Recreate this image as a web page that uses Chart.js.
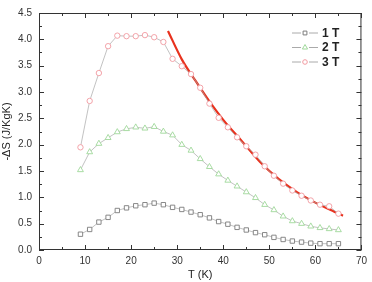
<!DOCTYPE html>
<html>
<head>
<meta charset="utf-8">
<script src="https://cdn.jsdelivr.net/npm/chart.js@4/dist/chart.umd.min.js"></script>
<style>
  html, body { margin: 0; padding: 0; background: #fff; }
  #wrap { width: 372px; height: 282px; position: relative; }
</style>
</head>
<body>
<div id="wrap"><canvas id="grafico"></canvas></div>
<script>
// Temperaturas medidas (K)
const temperaturas = [9, 11, 13, 15, 17, 19, 21, 23, 25, 27, 29, 31, 33, 35, 37,
                      39, 41, 43, 45, 47, 49, 51, 53, 55, 57, 59, 61, 63, 65];

// -dS (J/KgK) para cada campo
const campo1T = [0.30, 0.39, 0.53, 0.62, 0.75, 0.80, 0.84, 0.86, 0.89, 0.86, 0.81, 0.77, 0.72, 0.67, 0.61,
                 0.54, 0.49, 0.43, 0.38, 0.33, 0.29, 0.24, 0.20, 0.17, 0.15, 0.13, 0.12, 0.12, 0.12];
const campo2T = [1.52, 1.86, 2.02, 2.13, 2.24, 2.30, 2.33, 2.31, 2.34, 2.25, 2.18, 2.00, 1.89, 1.73, 1.58,
                 1.44, 1.32, 1.21, 1.10, 0.99, 0.86, 0.76, 0.64, 0.55, 0.50, 0.45, 0.42, 0.40, 0.38];
const campo3T = [1.95, 2.83, 3.36, 3.87, 4.07, 4.06, 4.06, 4.08, 4.04, 3.95, 3.63, 3.49, 3.34, 3.08, 2.78,
                 2.51, 2.33, 2.14, 1.97, 1.81, 1.59, 1.41, 1.26, 1.13, 1.03, 0.94, 0.86, 0.83, 0.69];

// Curva de ajuste (roja)
const ajusteT = [28, 31, 34, 37, 40, 44, 48, 52, 56, 60, 64, 66];
const ajusteS = [4.16, 3.62, 3.21, 2.82, 2.47, 2.07, 1.67, 1.35, 1.10, 0.90, 0.73, 0.65];

const etiquetas = ['1 T', '2 T', '3 T'];

const puntos = (xs, ys) => xs.map((x, i) => ({ x: x, y: ys[i] }));

// Marco y marcas hacia adentro en los cuatro lados
const marco = {
  id: 'marco',
  afterDraw(chart) {
    const ctx = chart.ctx;
    const a = chart.chartArea;
    const sx = chart.scales.x, sy = chart.scales.y;
    ctx.save();
    ctx.strokeStyle = '#333';
    ctx.lineWidth = 1;
    ctx.strokeRect(a.left + 0.5, a.top + 0.5, a.right - a.left - 1, a.bottom - a.top - 1);
    ctx.beginPath();
    for (let v = 0; v <= 70; v += 5) {
      const px = Math.round(sx.getPixelForValue(v)) + 0.5;
      const len = v % 10 === 0 ? 5 : 3;
      ctx.moveTo(px, a.bottom); ctx.lineTo(px, a.bottom - len);
      ctx.moveTo(px, a.top); ctx.lineTo(px, a.top + len);
    }
    for (let v = 0; v <= 4.5001; v += 0.25) {
      const py = Math.round(sy.getPixelForValue(v)) + 0.5;
      const len = Math.abs(v * 2 - Math.round(v * 2)) < 0.01 ? 5 : 3;
      ctx.moveTo(a.left, py); ctx.lineTo(a.left + len, py);
      ctx.moveTo(a.right, py); ctx.lineTo(a.right - len, py);
    }
    ctx.stroke();
    ctx.restore();
  }
};

// Leyenda dentro del area del grafico
const leyenda = {
  id: 'leyenda',
  afterDatasetsDraw(chart) {
    const ctx = chart.ctx;
    for (let i = 0; i < 3; i++) {
      const ds = chart.data.datasets[i];
      const y = 33 + i * 14.5;
      ctx.save();
      ctx.strokeStyle = '#aaa';
      ctx.lineWidth = 1;
      ctx.beginPath();
      ctx.moveTo(292, y); ctx.lineTo(301, y);
      ctx.moveTo(309, y); ctx.lineTo(318, y);
      ctx.stroke();
      ctx.fillStyle = '#fff';
      ctx.strokeStyle = ds.pointBorderColor;
      ctx.lineWidth = 1;
      Chart.helpers.drawPoint(ctx, {
        pointStyle: ds.pointStyle, radius: ds.pointRadius - 0.4, borderWidth: 1
      }, 305, y);
      ctx.fillStyle = '#222';
      ctx.font = 'bold 12px "Liberation Sans", Arial, sans-serif';
      ctx.textBaseline = 'middle';
      ctx.fillText(etiquetas[i], 322, y + 0.5);
      ctx.restore();
    }
  }
};

const serie = (etiqueta, datos, estilo, color, radio) => ({
  label: etiqueta,
  data: puntos(temperaturas, datos),
  showLine: true,
  borderColor: '#a8a8a8',
  borderWidth: 0.7,
  pointStyle: estilo,
  pointRadius: radio,
  pointBorderColor: color,
  pointBackgroundColor: '#fff',
  pointBorderWidth: 0.9,
  tension: 0
});

const config = {
  type: 'scatter',
  data: {
    datasets: [
      serie('1 T', campo1T, 'rect', '#7c7c7c', 3.1),
      serie('2 T', campo2T, 'triangle', '#9fd89a', 3.4),
      serie('3 T', campo3T, 'circle', '#f29aa0', 2.7),
      {
        label: 'ajuste',
        data: puntos(ajusteT, ajusteS),
        showLine: true,
        borderColor: '#e8321e',
        borderWidth: 2.2,
        pointRadius: 0,
        tension: 0.4,
        cubicInterpolationMode: 'monotone'
      }
    ]
  },
  options: {
    responsive: false,
    animation: false,
    layout: { padding: { top: 9, right: 6, left: 0, bottom: 0 } },
    plugins: { legend: { display: false }, tooltip: { enabled: false } },
    scales: {
      x: {
        type: 'linear', min: 0, max: 70,
        grid: { display: false, drawTicks: false },
        border: { display: false },
        ticks: { stepSize: 10, color: '#333', padding: 5,
                 font: { family: '"Liberation Sans", Arial, sans-serif', size: 10 } },
        title: { display: true, text: 'T (K)', color: '#222', padding: { top: 1, bottom: 0 },
                 font: { family: '"Liberation Sans", Arial, sans-serif', size: 11 } },
        afterFit(scale) { scale.height = 32; }
      },
      y: {
        min: 0, max: 4.5,
        grid: { display: false, drawTicks: false },
        border: { display: false },
        ticks: { stepSize: 0.5, color: '#333', padding: 7,
                 callback: v => v.toFixed(1),
                 font: { family: '"Liberation Sans", Arial, sans-serif', size: 10 } },
        title: { display: true, text: '-\u0394S (J/KgK)', color: '#222', padding: { top: 0, bottom: 2 },
                 font: { family: '"Liberation Sans", Arial, sans-serif', size: 11 } },
        afterFit(scale) { scale.width = 39; }
      }
    }
  },
  plugins: [marco, leyenda]
};

const canvas = document.getElementById('grafico');
canvas.width = 372;
canvas.height = 282;
const miGrafico = new Chart(canvas.getContext('2d'), config);
</script>
</body>
</html>
